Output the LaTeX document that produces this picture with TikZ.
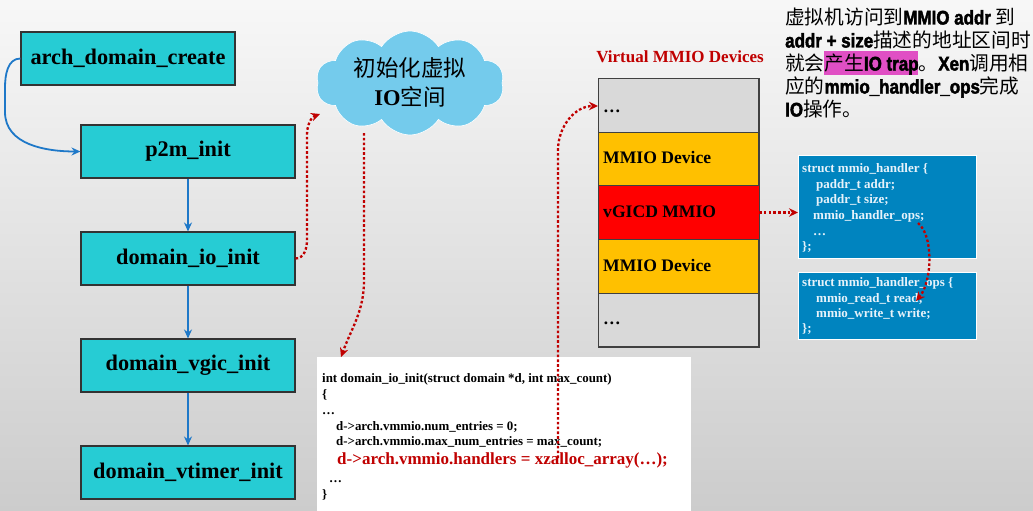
\documentclass[tikz,border=0pt]{standalone}
\usepackage{fontspec}
\setmainfont{Liberation Serif}
\usetikzlibrary{shapes.symbols,arrows.meta,calc}
\newfontfamily\cjk{Noto Sans CJK SC}
\newfontfamily\impactish[FakeStretch=0.86,FakeBold=2.2]{Liberation Sans Bold}
\definecolor{boxcyan}{HTML}{26CCD4}
\definecolor{flowblue}{HTML}{1E78C8}
\definecolor{dotred}{HTML}{C00000}
\definecolor{cloudblue}{HTML}{74CBEC}
\definecolor{cellgray}{HTML}{D9D9D9}
\definecolor{cellorange}{HTML}{FFC000}
\definecolor{cellred}{HTML}{FF0000}
\definecolor{structblue}{HTML}{0084BF}
\definecolor{structtext}{HTML}{E6F2FA}
\definecolor{hlpink}{HTML}{E04FC4}
\definecolor{titlered}{HTML}{C00000}
\begin{document}
\begin{tikzpicture}[x=1pt,y=-1pt,
  funcbox/.style={draw=black!80,line width=1.1pt,fill=boxcyan,minimum width=214pt,minimum height=53pt,inner sep=0pt,font=\fontsize{22.3}{25}\selectfont\bfseries},
  flowarrow/.style={draw=flowblue,line width=1.8pt,-{Stealth[length=9pt,width=8pt]}},
  dotarrow/.style={draw=dotred,line width=2.3pt,dash pattern=on 2.6pt off 2.2pt,-{Stealth[length=9pt,width=8.5pt]}},
  cell/.style={draw=black!75,line width=1pt,minimum width=160pt,inner sep=0pt},
  celltext/.style={anchor=base west,inner sep=0pt,font=\fontsize{17.6}{20}\selectfont\bfseries},
  codetext/.style={anchor=base west,inner sep=0pt,font=\fontsize{12.9}{15}\selectfont\bfseries},
  structbox/.style={draw=white,line width=1pt,fill=structblue,minimum width=178pt,inner sep=0pt},
  structline/.style={anchor=base west,inner sep=0pt,text=structtext,font=\fontsize{13}{15}\selectfont\bfseries},
  noteline/.style={anchor=base west,inner sep=0pt,font=\fontsize{19.7}{23}\selectfont\cjk}
]
\useasboundingbox (0,0) rectangle (1033,511);
\shade[top color=white!97!black,bottom color=white!80!black] (0,0) rectangle (1033,511);

% left flow
\node[funcbox] (adc) at (128,58.5) {arch\_domain\_create};
\node[funcbox] (p2m) at (188,151.5) {p2m\_init};
\node[funcbox] (dio) at (188,258.5) {domain\_io\_init};
\node[funcbox] (dvg) at (188,365.5) {domain\_vgic\_init};
\node[funcbox] (dvt) at (188,472.5) {domain\_vtimer\_init};
\coordinate (bendA) at (5,88);
\coordinate (bendB) at (5,112);
\draw[flowarrow] (adc.west) to[out=180,in=90] (bendA) -- (bendB) to[out=-90,in=180] (p2m.west);
\draw[flowarrow] (p2m.south) -- (dio.north);
\draw[flowarrow] (dio.south) -- (dvg.north);
\draw[flowarrow] (dvg.south) -- (dvt.north);

% cloud
\node[cloud,cloud puffs=10,cloud puff arc=115,aspect=1.9,fill=cloudblue,draw=white,line width=0.6pt,minimum width=188pt,minimum height=104pt,inner sep=0pt] (cloud) at (410,83) {};
\node[inner sep=0pt,anchor=base,font=\fontsize{22.5}{26}\selectfont\cjk] (cloudA) at (410,77) {初始化虚拟};
\node[inner sep=0pt,anchor=base,font=\fontsize{22.5}{26}\selectfont\cjk] (cloudB) at (410,105) {{\rmfamily\bfseries IO}空间};

% code box
\node[fill=white,minimum width=374pt,minimum height=160pt,inner sep=0pt,anchor=north west] (code) at (317,357) {};
\node[codetext] (c1) at (322,382) {int domain\_io\_init(struct domain *d, int max\_count)};
\node[codetext] (c2) at (322,398) {\{};
\node[codetext] (c3) at (322,414) {…};
\node[codetext] (c4) at (336,430) {d->arch.vmmio.num\_entries = 0;};
\node[codetext] (c5) at (336,445) {d->arch.vmmio.max\_num\_entries = max\_count;};
\node[codetext,text=dotred,font=\fontsize{17}{19}\selectfont\bfseries] (c6) at (337,464) {d->arch.vmmio.handlers = xzalloc\_array(…);};
\node[codetext] (c7) at (329,482) {…};
\node[codetext] (c8) at (322,498) {\}};

% MMIO stack
\node[inner sep=0pt,anchor=base,text=titlered,font=\fontsize{17}{19}\selectfont\bfseries] (mtitle) at (680,63) {Virtual MMIO Devices};
\node[cell,fill=cellgray,minimum height=54pt,anchor=north west] (m0) at (598,78) {};
\node[cell,fill=cellorange,minimum height=53pt,anchor=north west] (m1) at (598,132) {};
\node[cell,fill=cellred,minimum height=54pt,anchor=north west,draw=none] (m2) at (598,185) {};
\node[cell,fill=cellorange,minimum height=54pt,anchor=north west] (m3) at (598,239) {};
\node[cell,fill=cellgray,minimum height=53pt,anchor=north west] (m4) at (598,293) {};
\draw[black!75,line width=1pt] (m0.north west) rectangle (m4.south east);
\node[celltext] (t0) at (603,112) {…};
\node[celltext] (t1) at (603,163) {MMIO Device};
\node[celltext] (t2) at (603,217) {vGICD MMIO};
\node[celltext] (t3) at (603,271) {MMIO Device};
\node[celltext] (t4) at (603,324) {…};

% struct boxes
\node[structbox,minimum height=103pt,anchor=north west] (s1) at (798,155) {};
\node[structline] (s1a) at (802,172) {struct mmio\_handler \{};
\node[structline] (s1b) at (816,188) {paddr\_t addr;};
\node[structline] (s1c) at (816,203) {paddr\_t size;};
\node[structline] (s1d) at (813,219) {mmio\_handler\_ops;};
\node[structline] (s1e) at (813,235) {…};
\node[structline] (s1f) at (802,250) {\};};
\node[structbox,minimum height=67pt,anchor=north west] (s2) at (798,272) {};
\node[structline] (s2a) at (802,286) {struct mmio\_handler\_ops \{};
\node[structline] (s2b) at (816,302) {mmio\_read\_t read;};
\node[structline] (s2c) at (816,317) {mmio\_write\_t write;};
\node[structline] (s2d) at (802,332) {\};};

% red dotted connectors
\coordinate (cloudIn) at (320,114);
\coordinate (upA) at (307,240);
\coordinate (upB) at (307,135);
\draw[dotarrow] (dio.east) to[out=0,in=-90] (upA) -- (upB) to[out=90,in=200] (cloudIn);
\coordinate (cloudOut) at (364,133);
\coordinate (downA) at (364,280);
\coordinate (codeIn) at (341,357);
\draw[dotarrow] (cloudOut) -- (downA) to[out=-90,in=70] (codeIn);
\coordinate (codeOut) at (558,458);
\coordinate (riseA) at (558,150);
\coordinate (cellIn) at (598,106);
\draw[dotarrow] (codeOut) -- (riseA) to[out=90,in=180] (cellIn);
\draw[dotarrow] (m2.east) -- (s1.west |- m2.east);
\coordinate (opsEnd) at (918,223);
\coordinate (readIn) at (916,301);
\draw[dotarrow] (opsEnd) .. controls (934,236) and (932,282) .. (readIn);

% note text
\fill[hlpink] (824,51) rectangle (918,75);
\node[noteline] (n1) at (785,24.5) {虚拟机访问到{\impactish MMIO addr} 到};
\node[noteline] (n2) at (785,47.5) {{\impactish addr + size}描述的地址区间时};
\node[noteline] (n3) at (785,70.5) {就会产生{\impactish IO trap}。{\impactish Xen}调用相};
\node[noteline] (n4) at (785,93.5) {应的{\impactish mmio\_handler\_ops}完成};
\node[noteline] (n5) at (785,116.5) {{\impactish IO}操作。};
\end{tikzpicture}
\end{document}
